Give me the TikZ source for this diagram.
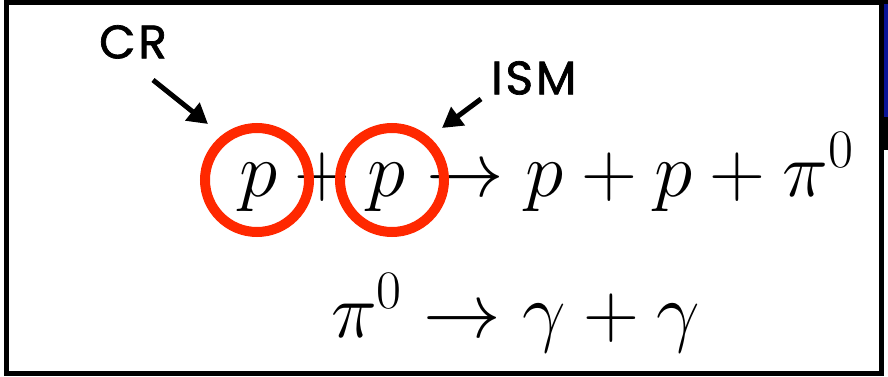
\RequirePackage{fix-cm}
\documentclass[tikz,border=0pt]{standalone}
\usepackage{fontspec}
\newfontfamily\labelfont{Poppins}[FakeBold=1.5,LetterSpace=6]
\usetikzlibrary{arrows.meta}
\definecolor{ringred}{RGB}{255,40,0}
\definecolor{edgeblue}{RGB}{10,20,150}
\begin{document}
\begin{tikzpicture}[x=1pt,y=-1pt,
  ring/.style={circle,draw=ringred,line width=10pt,minimum size=104pt,inner sep=0pt},
  eqn/.style={inner sep=0pt,outer sep=0pt,anchor=base west,font=\fontsize{77.5}{90}\selectfont},
  lab/.style={inner sep=0pt,anchor=north west,font=\labelfont\fontsize{47}{52}\selectfont},
  arr/.style={line width=5pt,-{Triangle[length=20pt,width=22pt]}}]
\useasboundingbox (0,0) rectangle (888,377);
\fill[white] (0,0) rectangle (888,377);
% right edge strip
\fill[edgeblue] (884,4) rectangle (888,117);
\fill[black] (884,117) rectangle (888,150);
\fill[black] (884,0) rectangle (888,4);
% frame
\draw[line width=5pt] (6.5,2.5) rectangle (881.5,373.5);
% equations
\node[eqn] (eq1) at (239,196) {$p+p\to p+p+\pi^0$};
\node[eqn] (eq2) at (331,337) {$\pi^0\to\gamma+\gamma$};
% rings
\node[ring] (c1) at (257,180) {};
\node[ring] (c2) at (392,180) {};
% labels
\node[lab] (cr) at (99,25) {CR};
\node[lab] (ism) at (491,61) {ISM};
\coordinate (crs) at (153,80);
\coordinate (crt) at (208,124);
\coordinate (isms) at (481,99);
\coordinate (ismt) at (442,128);
\draw[arr] (crs) -- (crt);
\draw[arr] (isms) -- (ismt);
\end{tikzpicture}
\end{document}
